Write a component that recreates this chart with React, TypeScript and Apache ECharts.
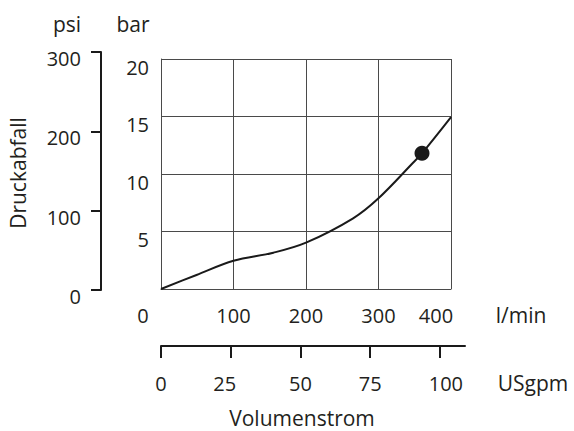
import React, { useEffect, useRef } from "react";
import * as echarts from "echarts";

// Flow (l/min) vs pressure drop (bar)
const flowLmin = [0, 49, 100, 155, 200, 265, 300, 348, 360, 400];
const dropBar = [0, 1.22, 2.45, 3.16, 4.03, 6.15, 7.89, 11.0, 11.8, 14.95];
const markerFlow = [360];
const markerDrop = [11.8];

const barTicks = [0, 5, 10, 15, 20];
const psiTicks = [0, 100, 200, 300];
const lminTicks = [0, 100, 200, 300, 400];
const gpmTicks = [0, 25, 50, 75, 100];

const FONT = '"Open Sans", sans-serif';
const TXT = "#231f20";
const LINE = "#1a1a1a";
const GRIDC = "#4a4a4a";

export default function App() {
  const ref = useRef<HTMLDivElement>(null);
  useEffect(() => {
    document.body.style.margin = "0";
    if (!ref.current) return;
    const chart = echarts.init(ref.current, undefined, { renderer: "svg" });
    const lineData = flowLmin.map((x, i) => [x, dropBar[i]]);
    const markData = markerFlow.map((x, i) => [x, markerDrop[i]]);
    const title = (text: string, x: number, y: number, extra: any = {}) => ({
      type: "text",
      x,
      y,
      ...extra,
      style: { text, font: `21px ${FONT}`, lineHeight: 22, fill: TXT, align: "center", verticalAlign: "middle" },
    });
    const option: any = {
      animation: false,
      backgroundColor: "#ffffff",
      textStyle: { fontFamily: FONT, fontSize: 20, color: TXT },
      grid: [
        { left: 161, top: 59, width: 290, height: 230 },
        { left: 101, top: 52, width: 10, height: 238 },
        { left: 161, top: 336, width: 304, height: 10 },
      ],
      xAxis: [
        {
          gridIndex: 0,
          type: "value",
          min: lminTicks[0],
          max: lminTicks[lminTicks.length - 1],
          interval: 100,
          axisLine: { show: true, lineStyle: { color: GRIDC, width: 1 } },
          axisTick: { show: false },
          splitLine: { show: true, lineStyle: { color: GRIDC, width: 1 } },
          axisLabel: {
            margin: 16,
            fontFamily: FONT,
            fontSize: 20,
            color: TXT,
            formatter: (v: number) => {
              if (v === 0) return "{a|0}";
              if (v === 400) return "{b|400}";
              return String(v);
            },
            rich: {
              a: { fontFamily: FONT, fontSize: 20, color: TXT, padding: [0, 36, 0, 0] },
              b: { fontFamily: FONT, fontSize: 20, color: TXT, padding: [0, 30, 0, 0] },
            },
          },
        },
        { gridIndex: 1, type: "value", show: false, min: 0, max: 1 },
        {
          gridIndex: 2,
          type: "value",
          position: "bottom",
          min: 0,
          max: 109,
          axisLine: { show: true, lineStyle: { color: LINE, width: 2 } },
          axisTick: {
            show: true,
            customValues: gpmTicks,
            length: 12,
            lineStyle: { color: LINE, width: 2 },
          },
          splitLine: { show: false },
          axisLabel: {
            customValues: gpmTicks,
            margin: 27,
            fontFamily: FONT,
            fontSize: 20,
            color: TXT,
            formatter: (v: number) => {
              if (v === 25) return "{c|25}";
              if (v === 100) return "{d|100}";
              return String(v);
            },
            rich: {
              c: { fontFamily: FONT, fontSize: 20, color: TXT, padding: [0, 12, 0, 0] },
              d: { fontFamily: FONT, fontSize: 20, color: TXT, padding: [0, 0, 0, 12] },
            },
          },
        },
      ],
      yAxis: [
        {
          gridIndex: 0,
          type: "value",
          min: barTicks[0],
          max: barTicks[barTicks.length - 1],
          interval: 5,
          axisLine: { show: true, lineStyle: { color: GRIDC, width: 1 } },
          axisTick: { show: false },
          splitLine: { show: true, lineStyle: { color: GRIDC, width: 1 } },
          axisLabel: {
            margin: 12,
            fontFamily: FONT,
            fontSize: 20,
            color: TXT,
            verticalAlign: "top",
            lineHeight: 16,
            formatter: (v: number) => (v === 0 ? "" : String(v)),
          },
        },
        {
          gridIndex: 1,
          type: "value",
          position: "left",
          min: psiTicks[0],
          max: psiTicks[psiTicks.length - 1],
          interval: 100,
          axisLine: { show: true, lineStyle: { color: LINE, width: 2 } },
          axisTick: { show: true, length: 10, lineStyle: { color: LINE, width: 2 } },
          splitLine: { show: false },
          axisLabel: {
            margin: 20,
            fontFamily: FONT,
            fontSize: 20,
            color: TXT,
            verticalAlign: "top",
            lineHeight: 13,
          },
        },
        { gridIndex: 2, type: "value", show: false, min: 0, max: 1 },
      ],
      series: [
        {
          type: "line",
          xAxisIndex: 0,
          yAxisIndex: 0,
          data: lineData,
          smooth: 0.35,
          showSymbol: false,
          lineStyle: { color: LINE, width: 2 },
          z: 3,
        },
        {
          type: "scatter",
          xAxisIndex: 0,
          yAxisIndex: 0,
          data: markData,
          symbol: "circle",
          symbolSize: 15,
          itemStyle: { color: LINE, opacity: 1 },
          z: 4,
        },
      ],
      graphic: [
        title("psi", 67, 24),
        title("bar", 133, 24),
        title("Druckabfall", 18, 173, { rotation: Math.PI / 2 }),
        title("l/min", 521, 315),
        title("USgpm", 533, 383),
        title("Volumenstrom", 302, 418),
      ],
    };
    chart.setOption(option);
    return () => chart.dispose();
  }, []);
  return <div ref={ref} style={{ width: 574, height: 431 }} />;
}
